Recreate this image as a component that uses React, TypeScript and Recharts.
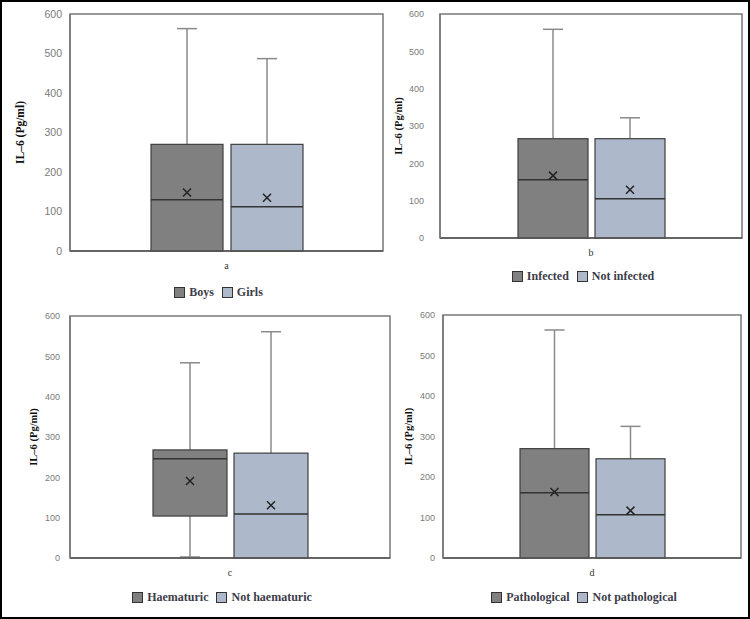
import React from "react";
import { ComposedChart, Bar, XAxis, YAxis, ReferenceArea, Label } from "recharts";

const SERIF = '"Liberation Serif", "DejaVu Serif", serif';
const SANS = '"Liberation Sans", Arial, sans-serif';
const DARK = "#808080";
const LIGHT = "#adb9cb";
const yTicks = [0, 100, 200, 300, 400, 500, 600];

// panel a
const aGroups = ["Boys", "Girls"];
const aMin = [0, 0];
const aQ1 = [0, 0];
const aMedian = [130, 112];
const aQ3 = [270, 270];
const aMax = [563, 487];
const aMean = [148, 135];

// panel b
const bGroups = ["Infected", "Not infected"];
const bMin = [0, 0];
const bQ1 = [0, 0];
const bMedian = [156, 105];
const bQ3 = [266, 266];
const bMax = [559, 322];
const bMean = [167, 129];

// panel c
const cGroups = ["Haematuric", "Not haematuric"];
const cMin = [0, 0];
const cQ1 = [104, 0];
const cMedian = [246, 109];
const cQ3 = [268, 260];
const cMax = [484, 561];
const cMean = [191, 131];

// panel d
const dGroups = ["Pathological", "Not pathological"];
const dMin = [0, 0];
const dQ1 = [0, 0];
const dMedian = [161, 107];
const dQ3 = [270, 245];
const dMax = [563, 325];
const dMean = [163, 117];

type Stats = { min: number; q1: number; median: number; q3: number; max: number; mean: number };

const stats = (min: number[], q1: number[], med: number[], q3: number[], max: number[], mean: number[], i: number): Stats => ({
  min: min[i], q1: q1[i], median: med[i], q3: q3[i], max: max[i], mean: mean[i],
});

// box drawn inside the range bar [min, max] given by the library
const makeBox = (s: Stats, fill: string) => (props: any) => {
  const { x, y, width, height } = props;
  if (height == null || !isFinite(height)) return <g />;
  const k = height / (s.max - s.min);
  const py = (v: number) => y + (s.max - v) * k;
  const cx = x + width / 2;
  const cap = 10;
  const whisker = "#8a8a8a";
  const m = 4;
  return (
    <g>
      <line x1={cx} x2={cx} y1={py(s.max)} y2={py(s.q3)} stroke={whisker} strokeWidth={1.5} />
      <line x1={cx - cap} x2={cx + cap} y1={py(s.max)} y2={py(s.max)} stroke={whisker} strokeWidth={1.5} />
      {s.q1 > s.min && (
        <>
          <line x1={cx} x2={cx} y1={py(s.q1)} y2={py(s.min)} stroke={whisker} strokeWidth={1.5} />
          <line x1={cx - cap} x2={cx + cap} y1={py(s.min) - 1} y2={py(s.min) - 1} stroke={whisker} strokeWidth={1.5} />
        </>
      )}
      <rect x={x} y={py(s.q3)} width={width} height={py(s.q1) - py(s.q3)} fill={fill} stroke="#3f3f3f" strokeWidth={1.2} />
      <line x1={x} x2={x + width} y1={py(s.median)} y2={py(s.median)} stroke="#333" strokeWidth={1.5} />
      <path
        d={`M${cx - m},${py(s.mean) - m}L${cx + m},${py(s.mean) + m}M${cx - m},${py(s.mean) + m}L${cx + m},${py(s.mean) - m}`}
        stroke="#222"
        strokeWidth={1.5}
      />
    </g>
  );
};

type Layout = {
  name: string;
  plotL: number; plotT: number; plotR: number; plotB: number;
  barSize: number; barGap: number;
  tickFont: number; tickGap: number;
  labelX: number; labelFont: number;
  legendY: number;
};

const Panel: React.FC<{ lay: Layout; groups: string[]; s: Stats[] }> = ({ lay, groups, s }) => {
  const cl = lay.plotL - 60;
  const ct = lay.plotT - 10;
  const cw = lay.plotR - cl + 4;
  const ch = lay.plotB - ct + 30;
  const row: Record<string, any> = { name: lay.name };
  s.forEach((st, i) => (row["s" + i] = [st.min, st.max]));
  const data = [row];
  const fills = [DARK, LIGHT];
  const midY = (lay.plotT + lay.plotB) / 2 - ct;
  const lx = lay.labelX - cl;

  return (
    <>
      <div style={{ position: "absolute", left: cl, top: ct }}>
        <ComposedChart width={cw} height={ch} data={data} margin={{ top: 10, right: 4, left: 0, bottom: 0 }} barGap={lay.barGap}>
          <ReferenceArea y1={0} y2={600} fill="none" stroke="#777" strokeWidth={1.5} ifOverflow="visible" />
          <XAxis
            dataKey="name"
            height={30}
            tickLine={false}
            tickSize={0}
            tickMargin={11}
            axisLine={{ stroke: "#555", strokeWidth: 1.5 }}
            tick={{ fill: "#333", fontSize: 10, fontFamily: SERIF }}
          />
          <YAxis
            width={60}
            domain={[0, 600]}
            ticks={yTicks}
            tickLine={false}
            tickSize={0}
            tickMargin={lay.tickGap}
            axisLine={{ stroke: "#777", strokeWidth: 1.5 }}
            tick={{ fill: "#7a7a7a", fontSize: lay.tickFont, fontFamily: SANS }}
          >
            <Label
              content={() => (
                <text
                  x={lx}
                  y={midY}
                  transform={`rotate(-90 ${lx} ${midY})`}
                  textAnchor="middle"
                  dominantBaseline="central"
                  fontFamily={SERIF}
                  fontWeight="bold"
                  fontSize={lay.labelFont}
                  fill="#111"
                >
                  IL–6 (Pg/ml)
                </text>
              )}
            />
          </YAxis>
          {s.map((st, i) => (
            <Bar
              key={i}
              dataKey={"s" + i}
              name={groups[i]}
              barSize={lay.barSize}
              fill={fills[i]}
              shape={makeBox(st, fills[i])}
              isAnimationActive={false}
            />
          ))}
        </ComposedChart>
      </div>
      <div
        style={{
          position: "absolute",
          left: lay.plotL - 8,
          width: lay.plotR - lay.plotL,
          top: lay.legendY - 8,
          display: "flex",
          justifyContent: "center",
          alignItems: "center",
          fontFamily: SERIF,
          fontWeight: "bold",
          fontSize: 12,
          color: "#3d3d4a",
          lineHeight: "16px",
        }}
      >
        {groups.map((g, i) => (
          <span key={g} style={{ display: "flex", alignItems: "center", marginLeft: i ? 8 : 0 }}>
            <span style={{ width: 9, height: 9, background: fills[i], border: "1px solid #333", marginRight: 4 }} />
            {g}
          </span>
        ))}
      </div>
    </>
  );
};

const layA: Layout = { name: "a", plotL: 70, plotT: 14, plotR: 383, plotB: 251, barSize: 72, barGap: 8, tickFont: 10.5, tickGap: 8, labelX: 20, labelFont: 11.5, legendY: 292 };
const layB: Layout = { name: "b", plotL: 440, plotT: 14, plotR: 742, plotB: 238, barSize: 70, barGap: 7, tickFont: 9, tickGap: 16, labelX: 398, labelFont: 10.5, legendY: 276 };
const layC: Layout = { name: "c", plotL: 70, plotT: 316, plotR: 390, plotB: 558, barSize: 74, barGap: 7, tickFont: 9, tickGap: 10, labelX: 33, labelFont: 10.5, legendY: 597 };
const layD: Layout = { name: "d", plotL: 443, plotT: 315, plotR: 741, plotB: 558, barSize: 69, barGap: 7, tickFont: 9, tickGap: 8, labelX: 408, labelFont: 10.5, legendY: 597 };

const sA = [0, 1].map((i) => stats(aMin, aQ1, aMedian, aQ3, aMax, aMean, i));
const sB = [0, 1].map((i) => stats(bMin, bQ1, bMedian, bQ3, bMax, bMean, i));
const sC = [0, 1].map((i) => stats(cMin, cQ1, cMedian, cQ3, cMax, cMean, i));
const sD = [0, 1].map((i) => stats(dMin, dQ1, dMedian, dQ3, dMax, dMean, i));

export default function App() {
  return (
    <div
      style={{
        position: "absolute",
        left: 0,
        top: 0,
        width: 750,
        height: 619,
        background: "#fff",
        border: "2px solid #000",
        boxSizing: "border-box",
      }}
    >
      <div style={{ position: "absolute", left: -2, top: -2 }}>
        <Panel lay={layA} groups={aGroups} s={sA} />
        <Panel lay={layB} groups={bGroups} s={sB} />
        <Panel lay={layC} groups={cGroups} s={sC} />
        <Panel lay={layD} groups={dGroups} s={sD} />
      </div>
    </div>
  );
}
